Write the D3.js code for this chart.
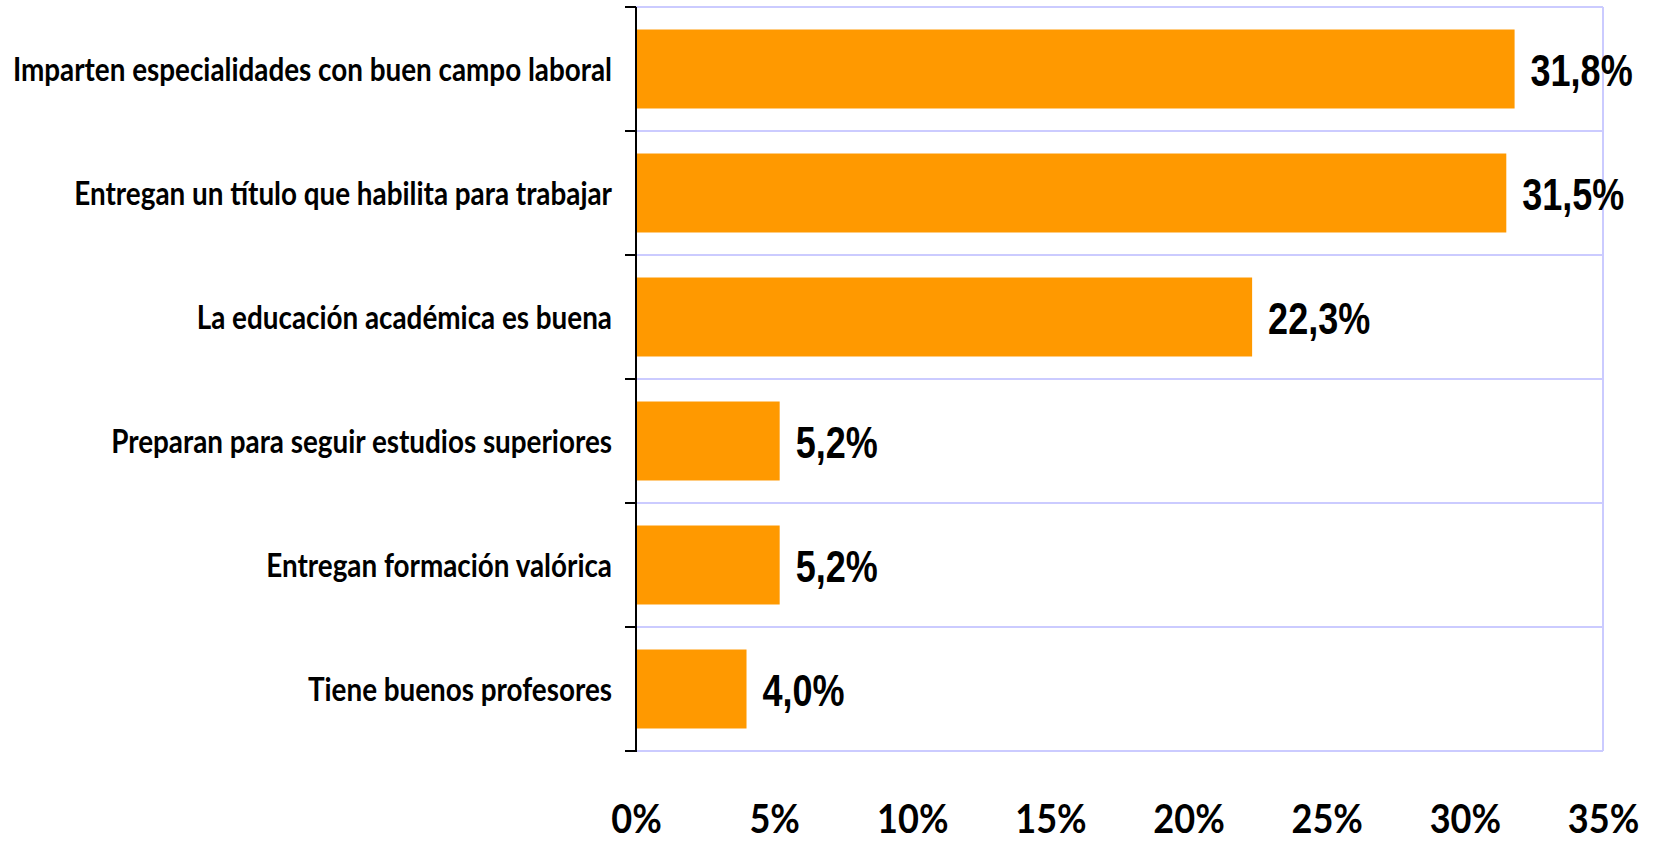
<!DOCTYPE html>
<html>
<head>
<meta charset="utf-8">
<script src="https://cdn.jsdelivr.net/npm/d3@7"></script>
<style>
  body { margin: 0; background: #fff; }
  svg { display: block; }
  .cal { font-family: Lato, "Open Sans", sans-serif; font-weight: bold; }
  .nar { font-family: "Liberation Sans", Arial, sans-serif; font-weight: bold; }
</style>
</head>
<body>
<svg id="chart" width="1663" height="842"></svg>
<script>
// data
const categories = [
  "Imparten especialidades con buen campo laboral",
  "Entregan un título que habilita para trabajar",
  "La educación académica es buena",
  "Preparan para seguir estudios superiores",
  "Entregan formación valórica",
  "Tiene buenos profesores"
];
const values = [31.8, 31.5, 22.3, 5.2, 5.2, 4.0];
const xTicks = [0, 5, 10, 15, 20, 25, 30, 35];

const svg = d3.select("#chart");
const plotLeft = 636, plotRight = 1603, plotTop = 7, plotBottom = 751;

const x = d3.scaleLinear().domain([0, 35]).range([plotLeft, plotRight]);
const y = d3.scaleBand()
  .domain(categories)
  .range([plotTop, plotBottom])
  .paddingInner(0.363)
  .paddingOuter(0.1815);

const fmt = v => v.toFixed(1).replace(".", ",") + "%";

// boundaries between categories
const bounds = d3.range(categories.length + 1).map(i => plotTop + i * y.step());

// gridlines + plot border
svg.append("g")
  .selectAll("line")
  .data(bounds)
  .join("line")
  .attr("x1", plotLeft).attr("x2", plotRight)
  .attr("y1", d => d).attr("y2", d => d)
  .attr("stroke", "#cbcbff")
  .attr("stroke-width", 2);

svg.append("line")
  .attr("x1", plotRight).attr("x2", plotRight)
  .attr("y1", plotTop).attr("y2", bounds[bounds.length - 1])
  .attr("stroke", "#cbcbff")
  .attr("stroke-width", 2);

// bars
svg.append("g")
  .selectAll("rect")
  .data(values)
  .join("rect")
  .attr("x", x(0))
  .attr("y", (d, i) => y(categories[i]))
  .attr("width", d => x(d) - x(0))
  .attr("height", y.bandwidth())
  .attr("fill", "#ff9900");

// value labels (narrow look)
svg.append("g")
  .selectAll("text")
  .data(values)
  .join("text")
  .attr("class", "nar")
  .attr("transform", (d, i) =>
    `translate(${x(d) + 16},${y(categories[i]) + y.bandwidth() / 2 + 17}) scale(0.8,1)`)
  .attr("font-size", 45)
  .attr("fill", "#000")
  .text(fmt);

// y axis line and ticks
const yAxis = svg.append("g").attr("stroke", "#000").attr("stroke-width", 2);
yAxis.append("line")
  .attr("x1", plotLeft).attr("x2", plotLeft)
  .attr("y1", plotTop).attr("y2", bounds[bounds.length - 1] + 1);
yAxis.selectAll(".tick")
  .data(bounds)
  .join("line")
  .attr("class", "tick")
  .attr("x1", plotLeft - 11).attr("x2", plotLeft)
  .attr("y1", d => d).attr("y2", d => d);

// category labels
svg.append("g")
  .selectAll("text")
  .data(categories)
  .join("text")
  .attr("class", "cal")
  .attr("transform", d => `translate(${plotLeft - 24},${y(d) + y.bandwidth() / 2 + 12}) scale(0.87,1)`)
  .attr("text-anchor", "end")
  .attr("font-size", 32)
  .attr("fill", "#000")
  .text(d => d);

// x axis labels
const xAxis = svg.append("g")
  .attr("transform", `translate(0, ${plotBottom})`)
  .call(d3.axisBottom(x).tickValues(xTicks).tickSize(0).tickPadding(53).tickFormat(d => d + "%"));
xAxis.select(".domain").remove();
xAxis.selectAll("text")
  .attr("class", "cal")
  .attr("font-size", 41)
  .attr("fill", "#000")
  .attr("transform", "scale(0.88,1)");
</script>
</body>
</html>
